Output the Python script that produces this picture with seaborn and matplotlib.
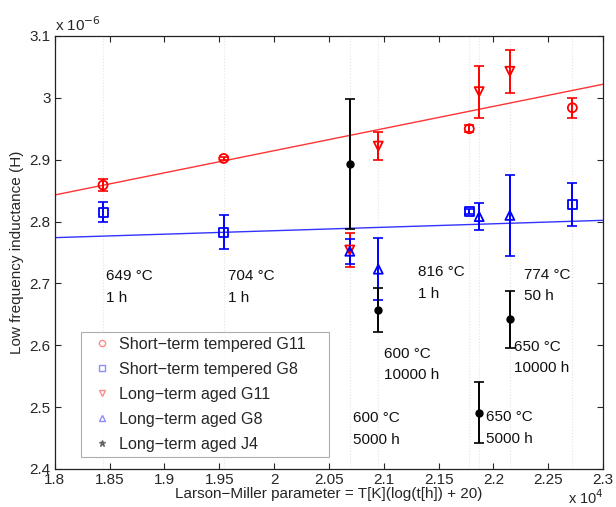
import numpy as np
import pandas as pd
import matplotlib
matplotlib.use("Agg")
import matplotlib.pyplot as plt
import seaborn as sns
from matplotlib.lines import Line2D

# Larson-Miller parameter (x 10^4) and inductance (x 10^-6 H)
st_x = [1.844, 1.954, 2.178, 2.272]
st_g11 = [2.859, 2.902, 2.950, 2.984]
st_g11_err = [0.010, 0.003, 0.006, 0.016]
st_g8 = [2.815, 2.783, 2.817, 2.828]
st_g8_err = [0.016, 0.027, 0.004, 0.035]

lt_x = [2.069, 2.095, 2.187, 2.215]
lt_g11 = [2.754, 2.922, 3.010, 3.043]
lt_g11_err = [0.028, 0.023, 0.042, 0.035]
lt_g8 = [2.752, 2.723, 2.808, 2.810]
lt_g8_err = [0.020, 0.050, 0.022, 0.066]
lt_j4 = [2.893, 2.657, 2.491, 2.642]
lt_j4_err = [0.105, 0.036, 0.049, 0.046]

fit_x = [1.80, 2.30]
fit_g11 = [2.843, 3.022]
fit_g8 = [2.774, 2.802]

labels = ["649 °C\n1 h", "704 °C\n1 h", "816 °C\n1 h", "774 °C\n50 h",
          "600 °C\n10000 h", "650 °C\n10000 h", "600 °C\n5000 h", "650 °C\n5000 h"]
label_x = [1.8468, 1.9576, 2.1312, 2.2278, 2.1002, 2.2190, 2.0718, 2.1928]
label_y = [2.7225, 2.7225, 2.730, 2.7257, 2.598, 2.609, 2.493, 2.4946]

sns.set_style("ticks")
plt.rcParams["font.family"] = ["Liberation Sans", "DejaVu Sans"]
plt.rcParams["font.size"] = 11

fig = plt.figure(figsize=(6.16, 5.07), dpi=100)
ax = fig.add_axes([0.089, 0.075, 0.890, 0.854])

for xv in sorted(set(st_x + lt_x)):
    ax.axvline(xv, color="#e4e4e4", lw=0.8, ls=":", zorder=0)

sns.lineplot(x=fit_x, y=fit_g11, color="#ff3333", lw=1.0, ax=ax)
sns.lineplot(x=fit_x, y=fit_g8, color="#3333ff", lw=1.0, ax=ax)

series = [
    (st_x, st_g11, st_g11_err, "red", "o", "Short−term tempered G11    "),
    (st_x, st_g8, st_g8_err, "blue", "s", "Short−term tempered G8"),
    (lt_x, lt_g11, lt_g11_err, "red", "v", "Long−term aged G11"),
    (lt_x, lt_g8, lt_g8_err, "blue", "^", "Long−term aged G8"),
    (lt_x, lt_j4, lt_j4_err, "black", "o", "Long−term aged J4"),
]
handles = []
for xs, ys, es, c, m, lab in series:
    ax.errorbar(xs, ys, yerr=es, fmt="none", ecolor=c, elinewidth=1.4,
                capsize=3.5, capthick=1.2, zorder=3)
    filled = lab.endswith("J4")
    sns.scatterplot(x=xs, y=ys, marker=m, s=22 if filled else 42,
                    facecolor=c if filled else "none", edgecolor=c,
                    linewidth=1.3, ax=ax, zorder=4)
    handles.append(Line2D([], [], ls="none", marker="*" if filled else m,
                          markersize=4.5, markerfacecolor="none" if not filled else c,
                          markeredgecolor=c, alpha=0.45, label=lab))

for t, xv, yv in zip(labels, label_x, label_y):
    ax.text(xv, yv, t, ha="left", va="top", fontsize=11, linespacing=1.7,
            color="#111111")

ax.set_xlim(1.8, 2.3)
ax.set_ylim(2.4, 3.1)
ax.set_xticks(np.arange(1.8, 2.301, 0.05))
ax.set_yticks(np.arange(2.4, 3.101, 0.1))
ax.xaxis.set_major_formatter(plt.FuncFormatter(lambda v, p: f"{v:g}"))
ax.yaxis.set_major_formatter(plt.FuncFormatter(lambda v, p: f"{round(v, 2):g}"))
ax.tick_params(direction="in", top=True, right=True, length=4, width=0.8,
               labelsize=11, pad=3)
for sp in ax.spines.values():
    sp.set_linewidth(0.9)
    sp.set_color("#222222")

ax.set_xlabel("Larson−Miller parameter = T[K](log(t[h]) + 20)", fontsize=11, labelpad=0)
ax.set_ylabel("Low frequency inductance (H)", fontsize=11, labelpad=4)
ax.text(0.0, 1.005, "x 10$^{-6}$", transform=ax.transAxes, ha="left", va="bottom", fontsize=11)
ax.text(1.002, -0.0805, "x 10$^{4}$", transform=ax.transAxes, ha="right", va="baseline", fontsize=10.5)

leg = ax.legend(handles=handles, loc="lower left", bbox_to_anchor=(0.047, 0.028),
                frameon=True, fancybox=False, fontsize=11.6, handletextpad=0.1,
                borderpad=0.3, labelspacing=0.62, handlelength=2.0, borderaxespad=0)
leg.get_frame().set_edgecolor("#999999")
leg.get_frame().set_linewidth(0.8)

fig.savefig("out.png", dpi=100)
